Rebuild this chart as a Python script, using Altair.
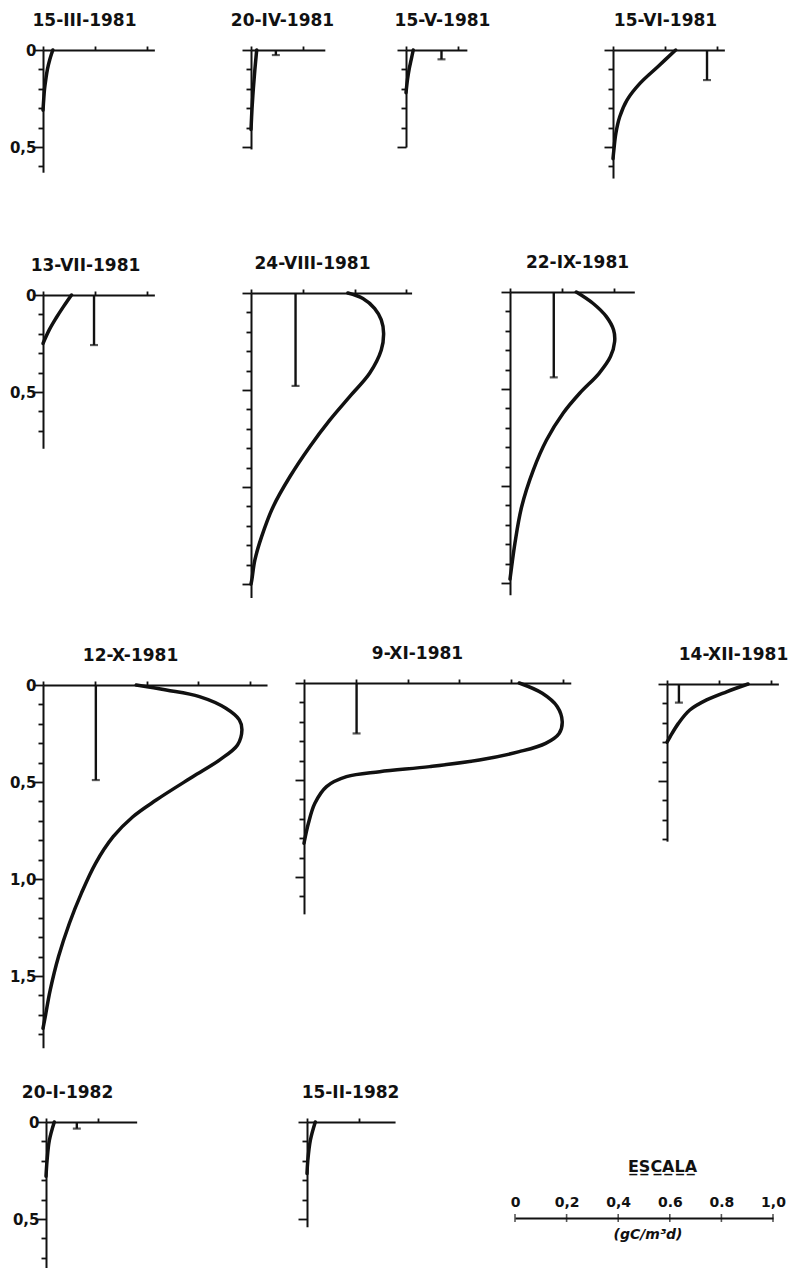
import altair as alt
import pandas as pd

# ---------------------------------------------------------------------------
# Vertical production profiles, depth (m) vs. primary production (gC/m3 d)
# ---------------------------------------------------------------------------
DATES = ["15-III-1981", "20-IV-1981", "15-V-1981", "15-VI-1981",
         "13-VII-1981", "24-VIII-1981", "22-IX-1981",
         "12-X-1981", "9-XI-1981", "14-XII-1981",
         "20-I-1982", "15-II-1982"]

D_MAR81 = [0, 0.05, 0.10, 0.15, 0.20, 0.25, 0.31]
P_MAR81 = [0.038, 0.026, 0.017, 0.011, 0.006, 0.003, 0]

D_APR81 = [0, 0.10, 0.20, 0.30, 0.41]
P_APR81 = [0.022, 0.015, 0.009, 0.004, 0]

D_MAY81 = [0, 0.05, 0.10, 0.15, 0.22]
P_MAY81 = [0.028, 0.020, 0.012, 0.006, 0]

D_JUN81 = [0, 0.086, 0.172, 0.258, 0.344, 0.43, 0.52, 0.56]
P_JUN81 = [0.242, 0.173, 0.104, 0.054, 0.026, 0.011, 0.003, 0]

D_JUL81 = [0, 0.06, 0.12, 0.18, 0.25]
P_JUL81 = [0.11, 0.079, 0.05, 0.024, 0]

D_AUG81 = [0, 0.028, 0.079, 0.139, 0.208, 0.294, 0.414, 0.534, 0.655,
           0.792, 0.947, 1.10, 1.256, 1.376, 1.48, 1.50]
P_AUG81 = [0.374, 0.432, 0.477, 0.503, 0.512, 0.503, 0.458, 0.381, 0.304,
           0.227, 0.15, 0.086, 0.041, 0.015, 0.003, 0]

D_SEP81 = [0, 0.058, 0.127, 0.196, 0.256, 0.333, 0.419, 0.522, 0.625,
           0.763, 0.918, 1.107, 1.295, 1.45, 1.48]
P_SEP81 = [0.256, 0.32, 0.372, 0.40, 0.404, 0.388, 0.344, 0.269, 0.205,
           0.141, 0.09, 0.045, 0.019, 0.003, 0]

D_OCT81 = [0, 0.026, 0.06, 0.12, 0.18, 0.232, 0.309, 0.387, 0.473, 0.593,
           0.679, 0.782, 0.919, 1.074, 1.228, 1.40, 1.572, 1.70, 1.77]
P_OCT81 = [0.36, 0.476, 0.604, 0.706, 0.758, 0.768, 0.751, 0.681, 0.578,
           0.437, 0.347, 0.271, 0.203, 0.148, 0.102, 0.06, 0.028, 0.01, 0]

D_NOV81 = [0, 0.053, 0.122, 0.199, 0.26, 0.311, 0.354, 0.397, 0.431, 0.457,
           0.483, 0.534, 0.62, 0.723, 0.826]
P_NOV81 = [0.831, 0.92, 0.978, 0.997, 0.985, 0.933, 0.831, 0.677, 0.485,
           0.292, 0.164, 0.087, 0.042, 0.017, 0]

D_DEC81 = [0, 0.04, 0.082, 0.134, 0.203, 0.272, 0.30]
P_DEC81 = [0.313, 0.23, 0.153, 0.088, 0.044, 0.012, 0]

D_JAN82 = [0, 0.094, 0.20, 0.28]
P_JAN82 = [0.032, 0.013, 0.004, 0]

D_FEB82 = [0, 0.094, 0.20, 0.266]
P_FEB82 = [0.032, 0.013, 0.003, 0]

PROFILES = [(D_MAR81, P_MAR81), (D_APR81, P_APR81), (D_MAY81, P_MAY81),
            (D_JUN81, P_JUN81), (D_JUL81, P_JUL81), (D_AUG81, P_AUG81),
            (D_SEP81, P_SEP81), (D_OCT81, P_OCT81), (D_NOV81, P_NOV81),
            (D_DEC81, P_DEC81), (D_JAN82, P_JAN82), (D_FEB82, P_FEB82)]

# mean production bar (value, depth it reaches)
MEAN_DATES = ["20-IV-1981", "15-V-1981", "15-VI-1981", "13-VII-1981",
              "24-VIII-1981", "22-IX-1981", "12-X-1981", "9-XI-1981",
              "14-XII-1981", "20-I-1982"]
MEAN_PROD = [0.096, 0.137, 0.363, 0.197, 0.172, 0.169, 0.204, 0.203, 0.046, 0.119]
MEAN_DEPTH = [0.026, 0.048, 0.155, 0.258, 0.479, 0.44, 0.49, 0.26, 0.096, 0.034]

# scale bar
SCALE_VALUES = [0, 0.2, 0.4, 0.6, 0.8, 1.0]
SCALE_LABELS = ["0", "0,2", "0,4", "0.6", "0.8", "1,0"]
SCALE_TITLE = "E\u0332S\u0332C\u0332A\u0332L\u0332A\u0332"
UNIT_LABEL = "(gC/m\u00b3d)"

# ---------------------------------------------------------------------------
# Page layout (pixels)
# ---------------------------------------------------------------------------
PX_PER_UNIT = 259   # horizontal pixels per gC/m3 d
PX_PER_M = 194      # vertical pixels per metre of depth
TITLE_RISE = -25    # title baseline relative to the surface axis

# axis origin x, origin y, production extent, depth extent, depth labels, title centre x
LAYOUT = [
    (43, 50, 0.43, 0.63, True, 84),
    (251, 50, 0.285, 0.51, False, 282),
    (406, 50, 0.235, 0.50, False, 442),
    (613, 50, 0.43, 0.66, False, 665),
    (43, 295, 0.43, 0.79, True, 85),
    (251, 293, 0.62, 1.57, False, 312),
    (510, 292, 0.48, 1.56, False, 577),
    (43, 685, 0.865, 1.87, True, 130),
    (304, 683, 1.03, 1.19, False, 417),
    (667, 684, 0.43, 0.81, False, 733),
    (46, 1122, 0.35, 0.76, True, 67),
    (307, 1122, 0.34, 0.54, False, 350),
]
SCALE_ORIGIN = (515, 1218, 258)   # x, y, length of the scale bar
SCALE_TITLE_POS = (662, -47)

INK = "#111111"
FONT = "DejaVu Sans"

MAJOR = "abs(datum.value*2 - round(datum.value*2)) < 0.001"
DEPTH_LABEL = (f"{MAJOR} ? (datum.value == 0 ? '0' : "
               "replace(format(datum.value, '.1f'), '.', ',')) : ''")


def panel(date, profile, layout):
    x0, y0, pmax, dmax, show_labels, title_cx = layout
    depths, prods = profile
    rows = [{"p": p, "d": d, "kind": "curve"} for d, p in zip(depths, prods)]
    if date in MEAN_DATES:
        i = MEAN_DATES.index(date)
        rows.append({"p": MEAN_PROD[i], "d": MEAN_DEPTH[i], "kind": "bar"})
    df = pd.DataFrame(rows)

    x_ticks = [round(0.2 * k, 1) for k in range(int(pmax / 0.2 + 1e-9) + 1)]
    y_ticks = [round(0.1 * k, 1) for k in range(int(dmax * 10 + 1e-9) + 1)]

    x_scale = alt.Scale(domain=[0, pmax], range=[x0, x0 + pmax * PX_PER_UNIT],
                        nice=False, zero=False)
    y_scale = alt.Scale(domain=[0, dmax], range=[y0, y0 + dmax * PX_PER_M],
                        nice=False, zero=False)

    x_axis = alt.Axis(orient="top", offset=-y0, values=x_ticks, labels=False,
                      tickSize=4, grid=False, title=date, titleX=title_cx,
                      titleY=TITLE_RISE, titleAlign="center",
                      titleBaseline="alphabetic", titleAngle=0)
    y_axis = alt.Axis(orient="left", offset=-x0, values=y_ticks,
                      labels=show_labels, labelExpr=DEPTH_LABEL,
                      labelOverlap=False, labelPadding=-2,
                      tickSize={"condition": {"test": MAJOR, "value": 9},
                                "value": 5},
                      grid=False, title=None)

    base = alt.Chart(df).encode(
        x=alt.X("p:Q", scale=x_scale, axis=x_axis),
        y=alt.Y("d:Q", scale=y_scale, axis=y_axis),
    )
    curve = base.transform_filter("datum.kind == 'curve'").mark_line(
        interpolate="catmull-rom", strokeWidth=3.5, color=INK,
        strokeCap="round").encode(order=alt.Order("d:Q"))
    bar = base.transform_filter("datum.kind == 'bar'").mark_rule(
        strokeWidth=2.4, color=INK).encode(y2=alt.datum(0))
    cap = base.transform_filter("datum.kind == 'bar'").mark_tick(
        orient="horizontal", size=8, thickness=2.2, color=INK)
    return alt.layer(curve, bar, cap)


def scale_bar():
    sx, sy, length = SCALE_ORIGIN
    rows = [{"p": v, "d": 0, "kind": "tick", "label": ""} for v in SCALE_VALUES]
    rows.append({"p": 0.5, "d": 0, "kind": "unit", "label": UNIT_LABEL})
    df = pd.DataFrame(rows)
    label_list = "[" + ",".join(f"'{s}'" for s in SCALE_LABELS) + "]"
    x_axis = alt.Axis(orient="top", offset=-sy, values=SCALE_VALUES,
                      labelExpr=f"{label_list}[round(datum.value*5)]",
                      ticks=False, tickSize=0, labelPadding=9, grid=False,
                      labelFontSize=14, labelFlush=False,
                      title=SCALE_TITLE, titleX=SCALE_TITLE_POS[0],
                      titleY=SCALE_TITLE_POS[1], titleAlign="center",
                      titleBaseline="alphabetic", titleFontSize=16)
    base = alt.Chart(df).encode(
        x=alt.X("p:Q", scale=alt.Scale(domain=[0, 1], range=[sx, sx + length],
                                       nice=False, zero=False), axis=x_axis),
        y=alt.Y("d:Q", scale=alt.Scale(domain=[0, 1], range=[sy, sy + 50],
                                       nice=False, zero=False), axis=None),
    )
    ticks = base.transform_filter("datum.kind == 'tick'").mark_tick(
        orient="vertical", size=8, thickness=1.6, color=INK)
    unit = base.transform_filter("datum.kind == 'unit'").mark_text(
        dy=17, dx=4, fontSize=14, fontWeight="bold", font=FONT, color=INK,
        fontStyle="italic").encode(text="label:N")
    return alt.layer(ticks, unit)


panels = [panel(date, prof, lay) for date, prof, lay in zip(DATES, PROFILES, LAYOUT)]

chart = (
    alt.layer(*panels, scale_bar())
    .resolve_scale(x="independent", y="independent")
    .resolve_axis(x="independent", y="independent")
    .properties(width=789, height=1268, padding=0, autosize="none",
                background="white")
    .configure_view(stroke=None)
    .configure_axis(domainColor=INK, domainWidth=2, tickColor=INK,
                    tickWidth=1.8, labelColor=INK, labelFont=FONT,
                    labelFontSize=15, labelFontWeight="bold",
                    titleColor=INK, titleFont=FONT, titleFontSize=17,
                    titleFontWeight="bold")
)

chart.save("out.html", embed_options={"renderer": "svg", "actions": False})
